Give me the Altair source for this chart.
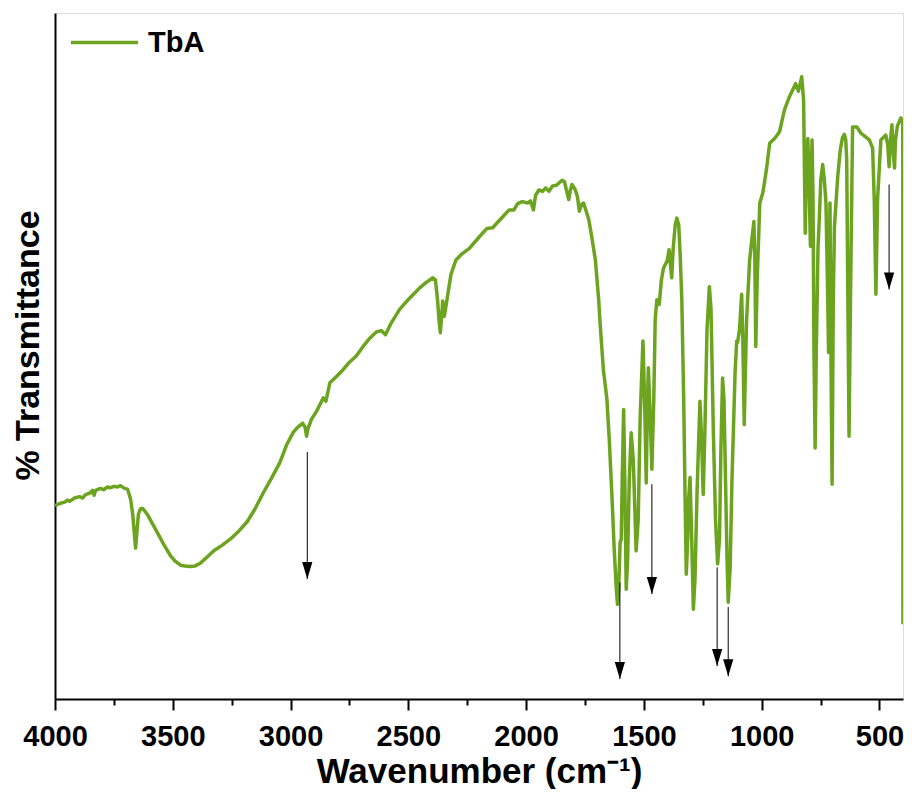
import altair as alt
import pandas as pd

# ---- spectrum (wavenumber in cm^-1, transmittance in arbitrary % units) ----
wn_a = [4000, 3980, 3959, 3946, 3938, 3917, 3896, 3883, 3870, 3853, 3841, 3834, 3828, 3807, 3794,
        3777, 3765, 3748, 3735, 3722, 3705, 3692, 3679, 3670, 3663, 3658, 3653, 3646, 3638, 3629,
        3621, 3608, 3587, 3566, 3541, 3510, 3490, 3467, 3448, 3425, 3405, 3383, 3354, 3326, 3291,
        3256, 3219, 3185, 3151, 3115, 3079, 3045, 3016, 2988, 2970, 2949, 2938, 2932, 2926, 2911,
        2890, 2861]
t_a = [28.2, 28.5, 28.7, 29.0, 28.8, 29.3, 29.5, 29.3, 29.8, 30.0, 30.4, 29.7, 30.4, 30.7, 30.5,
       30.9, 30.8, 31.0, 30.9, 31.1, 30.7, 30.6, 29.1, 26.9, 24.0, 22.0, 24.0, 26.9, 27.7, 27.8,
       27.5, 26.9, 25.6, 24.3, 22.7, 20.9, 20.1, 19.5, 19.4, 19.3, 19.4, 19.8, 20.7, 21.6, 22.4,
       23.3, 24.5, 25.8, 27.7, 30.1, 32.3, 34.5, 37.1, 38.9, 39.6, 40.2, 39.6, 38.3, 39.4, 40.8,
       41.9, 43.9]

wn_b = [2850, 2833, 2805, 2777, 2750, 2721, 2692, 2666, 2636, 2615, 2597, 2573, 2537, 2501, 2475,
        2453, 2425, 2396, 2385, 2376, 2370, 2364, 2359, 2354, 2347, 2336, 2319, 2298, 2272, 2241,
        2213, 2185, 2166, 2142, 2107, 2072, 2052, 2036, 2016, 1993, 1981, 1969, 1960, 1946, 1930,
        1917, 1903, 1888, 1871, 1858, 1847, 1837, 1829, 1819, 1812, 1805, 1791, 1782, 1774, 1765,
        1756, 1744, 1734, 1723, 1706]
t_b = [43.4, 46.1, 47.0, 48.0, 49.1, 50.0, 51.4, 52.5, 53.5, 53.7, 53.1, 54.8, 56.8, 58.2, 59.1,
       59.9, 60.7, 61.4, 61.1, 58.2, 55.3, 53.4, 55.6, 58.0, 55.8, 58.2, 61.9, 64.0, 64.9, 65.7,
       66.8, 67.9, 68.6, 68.7, 70.0, 71.3, 71.3, 72.2, 72.5, 72.3, 72.6, 71.3, 73.4, 74.2, 74.0,
       74.5, 74.0, 74.8, 74.9, 75.3, 75.6, 75.4, 74.2, 72.8, 74.2, 75.0, 74.2, 73.2, 71.1, 72.1,
       72.3, 71.0, 69.9, 67.7, 64.0]

wn_c = [1692, 1685, 1672, 1657, 1647, 1635, 1626, 1617, 1612, 1607, 1601, 1596, 1592, 1586, 1581,
        1575, 1569, 1562, 1554, 1545, 1533, 1524, 1516, 1504, 1497, 1490, 1486, 1481, 1473, 1466,
        1458, 1452, 1445, 1435, 1426, 1417, 1401, 1393, 1382, 1376, 1367, 1360, 1352, 1346, 1339,
        1331, 1325, 1320, 1314, 1310, 1304, 1297, 1290, 1283, 1274, 1262, 1255, 1248, 1241, 1232,
        1222, 1215, 1205, 1196, 1187, 1179, 1173, 1166, 1160, 1153, 1147, 1142, 1134, 1126, 1113,
        1106, 1102, 1094, 1085, 1080, 1074, 1069, 1064, 1051, 1042, 1033, 1029, 1025]
t_c = [58.2, 54.3, 48.0, 43.7, 37.8, 29.1, 21.8, 16.0, 13.8, 16.0, 22.8, 23.3, 32.0, 42.2, 32.0,
       16.0, 20.4, 32.0, 38.8, 34.9, 21.6, 26.2, 40.8, 52.2, 43.7, 31.5, 40.8, 48.3, 40.8, 33.5,
       43.7, 55.3, 58.2, 57.5, 61.0, 62.8, 63.9, 65.5, 61.4, 65.5, 69.1, 70.1, 69.1, 64.8, 58.2,
       43.7, 29.1, 18.2, 23.3, 29.1, 32.3, 23.3, 13.1, 17.5, 30.6, 43.4, 37.8, 29.8, 39.2, 53.9,
       60.1, 56.8, 38.8, 26.2, 19.7, 23.3, 36.4, 46.8, 43.7, 31.0, 20.4, 14.1, 19.0, 32.0, 47.5,
       52.2, 52.0, 53.9, 59.0, 52.4, 40.0, 48.0, 55.3, 64.0, 66.9, 69.6, 64.0, 51.4]

wn_d = [1019, 1008, 995, 980, 966, 945, 924, 903, 882, 856, 844, 830, 822, 815, 810,
        804, 799, 793, 789, 786, 782, 778, 773, 768, 761, 755, 749, 741, 734, 727,
        721, 716, 710, 705, 701, 696, 691, 677, 666, 657, 649, 643, 639, 634, 629,
        623, 614, 596, 579, 543, 529, 522, 515, 508, 494, 473, 465, 459, 453, 447,
        442, 436, 432, 424, 409, 401, 400]
t_d = [61.1, 72.3, 73.8, 77.1, 81.0, 81.7, 82.7, 85.9, 87.8, 89.7, 88.6, 90.7, 87.3, 67.9, 78.6,
       81.7, 75.7, 66.0, 76.9, 81.5, 72.8, 50.9, 36.6, 50.9, 65.5, 70.3, 75.7, 77.9, 75.7, 72.3,
       61.1, 50.5, 72.3, 46.6, 31.3, 58.2, 68.9, 76.2, 80.1, 81.8, 82.3, 81.5, 78.6, 58.2, 38.3,
       58.2, 83.4, 83.4, 82.5, 81.5, 80.3, 72.8, 59.0, 72.8, 81.5, 82.2, 80.8, 77.6, 81.5, 83.7,
       80.1, 77.4, 81.5, 83.5, 84.7, 84.2, 10.9]

wavenumber = wn_a + wn_b + wn_c + wn_d
transmittance = t_a + t_b + t_c + t_d
assert len(wavenumber) == len(transmittance)

# ---- annotation arrows (wavenumber, start T, tip T) ----
arrow_wn = [2929, 1602, 1466, 1189, 1142, 459]
arrow_start = [36.0, 17.0, 31.3, 19.2, 13.4, 75.0]
arrow_tip = [17.5, 2.9, 15.3, 4.8, 3.3, 59.7]

# ---- axis ticks ----
tick_values = [4000, 3750, 3500, 3250, 3000, 2750, 2500, 2250, 2000, 1750, 1500, 1250, 1000, 750, 500]

series_name = "TbA"
green = "#6ca41f"
font = "Liberation Sans"

spec = pd.DataFrame({"wn": wavenumber, "T": transmittance, "series": series_name})
arrows = pd.DataFrame({"wn": arrow_wn, "y1": arrow_start, "y2": arrow_tip})

x_scale = alt.Scale(domain=[4000, 400], nice=False, zero=False)
y_scale = alt.Scale(domain=[0, 100], nice=False, zero=False)

x_axis = alt.Axis(
    values=tick_values,
    labelExpr="datum.value % 500 === 0 ? datum.label : ''",
    format="d",
    title="Wavenumber (cm⁻¹)",
    titleFontSize=35,
    titleFont=font,
    titleFontWeight="bold",
    titleColor="black",
    titlePadding=3,
    labelFontSize=29,
    labelFont=font,
    labelFontWeight="bold",
    labelColor="black",
    labelPadding=12,
    labelOverlap=False,
    labelFlush=False,
    tickSize={"condition": {"test": "datum.value % 500 === 0", "value": 11}, "value": 6},
    tickWidth=2,
    tickColor="black",
    domainColor="black",
    domainWidth=2,
    grid=False,
)

y_axis = alt.Axis(
    title="% Transmittance",
    titleFontSize=34,
    titleFont=font,
    titleFontWeight="bold",
    titleColor="black",
    titlePadding=10,
    titleY=332,
    labels=False,
    ticks=False,
    domainColor="black",
    domainWidth=2,
    grid=False,
)

line = alt.Chart(spec).mark_line(strokeWidth=3.5, strokeJoin="round", clip=True).encode(
    x=alt.X("wn:Q", scale=x_scale, axis=x_axis),
    y=alt.Y("T:Q", scale=y_scale, axis=y_axis),
    color=alt.Color(
        "series:N",
        scale=alt.Scale(domain=[series_name], range=[green]),
        legend=alt.Legend(
            title=None,
            orient="none",
            legendX=14,
            legendY=-6,
            symbolType="stroke",
            symbolSize=4489,
            symbolStrokeWidth=3.5,
            labelFontSize=29,
            labelFont=font,
            labelFontWeight="bold",
            labelColor="black",
            labelOffset=8,
            padding=0,
        ),
    ),
    order=alt.Order("wn:Q", sort="descending"),
)

shafts = alt.Chart(arrows).mark_rule(color="black", strokeWidth=1).encode(
    x=alt.X("wn:Q", scale=x_scale),
    y=alt.Y("y1:Q", scale=y_scale),
    y2="y2:Q",
)

heads = alt.Chart(arrows).mark_point(
    shape="M-0.6,-2L0.6,-2L0,0Z", filled=True, color="black", opacity=1, size=289, strokeWidth=0
).encode(
    x=alt.X("wn:Q", scale=x_scale),
    y=alt.Y("y2:Q", scale=y_scale),
)

chart = (
    alt.layer(line, shafts, heads)
    .properties(
        width=848,
        height=686,
        autosize=alt.AutoSizeParams(type="none"),
        padding={"left": 47, "top": 5, "right": 1, "bottom": 90},
    )
    .configure_view(stroke="black", strokeWidth=2)
    .configure(background="white")
)

chart.save("out.html", embed_options={"renderer": "svg", "actions": False})
